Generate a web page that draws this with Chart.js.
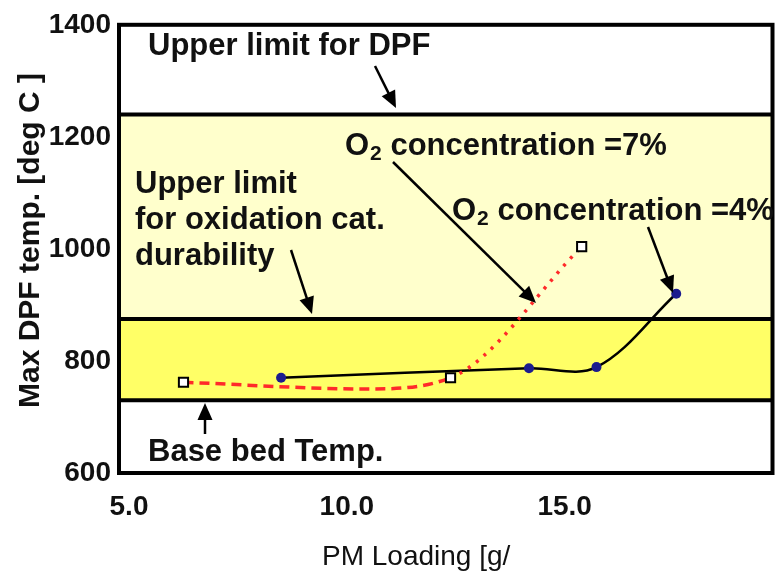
<!DOCTYPE html>
<html>
<head>
<meta charset="utf-8">
<script src="https://cdn.jsdelivr.net/npm/chart.js@4.4.0/dist/chart.umd.min.js"></script>
<style>
  html, body { margin: 0; padding: 0; background: #ffffff; }
  #wrap { width: 781px; height: 577px; }
</style>
</head>
<body>
<div id="wrap"><canvas id="Chart" width="781" height="577"></canvas></div>
<script>
// PM loading [g] vs max DPF temperature [deg C]
const loading4 = [8.72, 14.41, 15.96, 17.79];
const temp4 = [770, 787, 789, 920];

// the 10.65 point is only the low spot of the drawn curve, no marker there
const loading7 = [6.48, 10.65, 12.61, 15.62];
const temp7 = [762, 750, 770, 1004];
const marker7 = [true, false, true, true];

// limits drawn as horizontal lines / bands
const dpfLimit = 1240;
const catLimit = 875;
const baseBed = 730;

const xTicks = [5, 10, 15];
const yTicks = [600, 800, 1000, 1200, 1400];

const FONT = "'Liberation Sans', Arial, sans-serif";

function arrow(ctx, x1, y1, x2, y2) {
    const a = Math.atan2(y2 - y1, x2 - x1);
    const len = 17, half = 7.5;
    ctx.save();
    ctx.strokeStyle = '#000';
    ctx.fillStyle = '#000';
    ctx.lineWidth = 2.5;
    ctx.beginPath();
    ctx.moveTo(x1, y1);
    ctx.lineTo(x2 - Math.cos(a) * len * 0.8, y2 - Math.sin(a) * len * 0.8);
    ctx.stroke();
    ctx.beginPath();
    ctx.moveTo(x2, y2);
    ctx.lineTo(x2 - Math.cos(a) * len + Math.sin(a) * half, y2 - Math.sin(a) * len - Math.cos(a) * half);
    ctx.lineTo(x2 - Math.cos(a) * len - Math.sin(a) * half, y2 - Math.sin(a) * len + Math.cos(a) * half);
    ctx.closePath();
    ctx.fill();
    ctx.restore();
}

function o2Label(ctx, x, y, rest) {
    ctx.font = 'bold 31px ' + FONT;
    ctx.fillText('O', x, y);
    let w = ctx.measureText('O').width;
    ctx.font = 'bold 21px ' + FONT;
    ctx.fillText('2', x + w + 1, y + 5);
    w += ctx.measureText('2').width + 1;
    ctx.font = 'bold 31px ' + FONT;
    ctx.fillText(rest, x + w, y);
}

const bandsPlugin = {
    id: 'bands',
    beforeDatasetsDraw(chart) {
        const { ctx, chartArea: a, scales } = chart;
        const yDpf = scales.y.getPixelForValue(dpfLimit);
        const yCat = scales.y.getPixelForValue(catLimit);
        const yBase = scales.y.getPixelForValue(baseBed);
        ctx.save();
        ctx.fillStyle = '#ffffcc';
        ctx.fillRect(a.left, yDpf, a.width, yCat - yDpf);
        ctx.fillStyle = '#ffff66';
        ctx.fillRect(a.left, yCat, a.width, yBase - yCat);
        ctx.strokeStyle = '#000';
        ctx.lineWidth = 4;
        [yDpf, yCat, yBase].forEach(y => {
            ctx.beginPath();
            ctx.moveTo(a.left, y);
            ctx.lineTo(a.right, y);
            ctx.stroke();
        });
        ctx.strokeRect(a.left, a.top, a.width, a.height);
        ctx.restore();
    },
    afterDraw(chart) {
        const { ctx } = chart;
        ctx.save();
        ctx.fillStyle = '#111';
        ctx.textBaseline = 'alphabetic';
        ctx.textAlign = 'left';

        ctx.font = 'bold 31px ' + FONT;
        ctx.fillText('Upper limit for DPF', 148, 55);
        ctx.fillText('Upper limit', 135, 193);
        ctx.fillText('for oxidation cat.', 135, 229);
        ctx.fillText('durability', 135, 265);
        ctx.fillText('Base bed Temp.', 148, 461);
        o2Label(ctx, 345, 155, ' concentration =7%');
        o2Label(ctx, 452, 220, ' concentration =4%');

        arrow(ctx, 375, 66, 396, 108);
        arrow(ctx, 291, 250, 312, 314);
        arrow(ctx, 205, 434, 205, 403);
        arrow(ctx, 393, 162, 536, 303);
        arrow(ctx, 648, 227, 673, 293);

        // axis titles
        ctx.font = '28px ' + FONT;
        ctx.fillText('PM Loading [g/', 322, 565);
        ctx.save();
        ctx.translate(39, 408);
        ctx.rotate(-Math.PI / 2);
        ctx.font = 'bold 30px ' + FONT;
        ctx.fillText('Max DPF temp. [deg C ]', 0, 0);
        ctx.restore();
        ctx.restore();
    }
};

const ctxChart = document.getElementById('Chart').getContext('2d');
const chart = new Chart(ctxChart, {
    type: 'line',
    data: {
        datasets: [
            {
                label: 'O2 concentration =7%',
                data: loading7.map((x, i) => ({ x: x, y: temp7[i] })),
                borderColor: '#ff2a2a',
                borderWidth: 3.5,
                borderDash: [10, 6],
                cubicInterpolationMode: 'monotone',
                segment: {
                    borderDash: c => c.p0DataIndex >= 2 ? [3, 7] : [10, 6]
                },
                pointStyle: 'rect',
                pointRadius: marker7.map(m => m ? 6.5 : 0),
                pointBackgroundColor: '#ffffff',
                pointBorderColor: '#000000',
                pointBorderWidth: 2,
                fill: false
            },
            {
                label: 'O2 concentration =4%',
                data: loading4.map((x, i) => ({ x: x, y: temp4[i] })),
                borderColor: '#000000',
                borderWidth: 2.5,
                tension: 0.35,
                pointStyle: 'circle',
                pointRadius: 5,
                pointBackgroundColor: '#1c1c8e',
                pointBorderColor: '#1c1c8e',
                pointBorderWidth: 0,
                fill: false
            }
        ]
    },
    options: {
        responsive: false,
        animation: false,
        layout: { padding: { top: 20, right: 2, left: 0, bottom: 0 } },
        plugins: {
            legend: { display: false },
            tooltip: { enabled: false }
        },
        scales: {
            x: {
                type: 'linear',
                min: 5,
                max: 20,
                afterBuildTicks: s => { s.ticks = xTicks.map(v => ({ value: v })); },
                afterFit: s => { s.height = 104; },
                grid: { display: false, drawTicks: false },
                border: { display: false },
                ticks: {
                    padding: 17,
                    labelOffset: 10,
                    color: '#111',
                    font: { family: FONT, size: 28, weight: 'bold' },
                    callback: v => v.toFixed(1)
                }
            },
            y: {
                type: 'linear',
                min: 600,
                max: 1400,
                afterBuildTicks: s => { s.ticks = yTicks.map(v => ({ value: v })); },
                afterFit: s => { s.width = 119; },
                grid: { display: false, drawTicks: false },
                border: { display: false },
                ticks: {
                    padding: 8,
                    color: '#111',
                    font: { family: FONT, size: 28, weight: 'bold' },
                    callback: v => String(v)
                }
            }
        }
    },
    plugins: [bandsPlugin]
});
</script>
</body>
</html>
